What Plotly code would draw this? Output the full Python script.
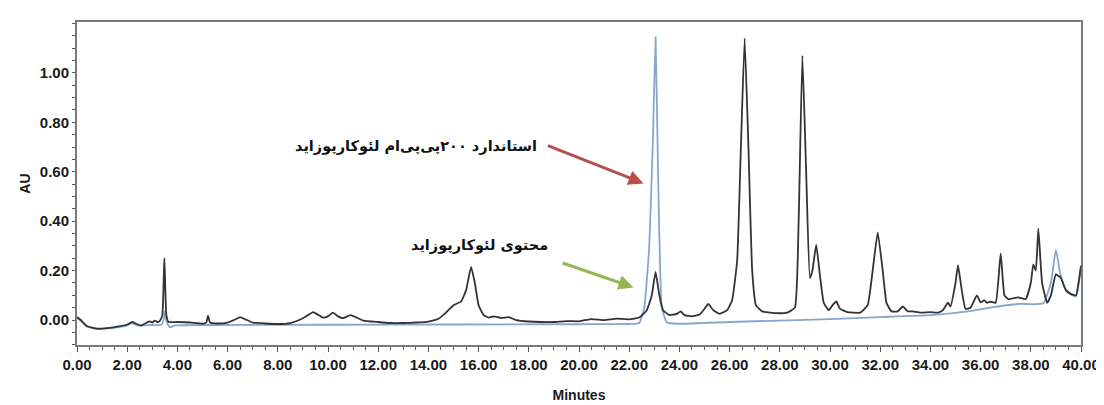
import plotly.graph_objects as go

# Sample chromatogram (black): time (min), absorbance (AU)
sample_t = [0.00, 0.15, 0.4, 0.8, 1.2, 1.6, 2.0, 2.2, 2.35, 2.55, 2.75, 2.9, 3.0, 3.1, 3.2, 3.3,
            3.4, 3.48, 3.56, 3.65, 4.0, 4.5, 5.0, 5.15, 5.22, 5.3, 5.6, 6.0, 6.3, 6.5, 6.7, 7.0,
            7.5, 8.0, 8.5, 8.9, 9.2, 9.4, 9.6, 9.8, 10.0, 10.2, 10.4, 10.6, 10.9, 11.1, 11.4, 12.0,
            12.5, 13.0, 13.5, 14.0, 14.4, 14.7, 15.0, 15.3, 15.5, 15.7, 15.85, 16.0, 16.2, 16.4,
            16.6, 16.9, 17.2, 17.5, 18.0, 18.5, 19.0, 19.5, 20.0, 20.5, 21.0, 21.5, 22.0, 22.4,
            22.7, 22.9, 23.05, 23.2, 23.35, 23.6, 23.9, 24.05, 24.2, 24.5, 24.8, 25.0, 25.15,
            25.35, 25.6, 25.9, 26.1, 26.3, 26.45, 26.6, 26.75, 26.9, 27.05, 27.3, 27.8, 28.3,
            28.6, 28.75, 28.9, 29.05, 29.2, 29.3, 29.45, 29.6, 29.75, 29.95, 30.1, 30.25, 30.4,
            30.7, 31.2, 31.5, 31.7, 31.9, 32.1, 32.25, 32.45, 32.7, 32.9, 33.1, 33.3, 33.6, 34.0,
            34.3, 34.5, 34.7, 34.8, 35.0, 35.1, 35.25, 35.4, 35.6, 35.85, 36.0, 36.15, 36.25,
            36.4, 36.6, 36.8, 36.95, 37.1, 37.5, 37.8, 38.0, 38.1, 38.2, 38.3, 38.45, 38.65,
            38.8, 39.0, 39.2, 39.4, 39.6, 39.8, 39.9, 40.0]
sample_au = [0.012, 0.0, -0.025, -0.035, -0.033, -0.027, -0.018, -0.008, -0.015, -0.022, -0.012,
             -0.005, -0.01, -0.002, -0.008, -0.003, 0.02, 0.25, 0.02, -0.008, -0.008, -0.01,
             -0.015, -0.01, 0.018, -0.01, -0.014, -0.01, 0.002, 0.012, 0.003, -0.01, -0.014,
             -0.016, -0.012, 0.002, 0.02, 0.032, 0.022, 0.01, 0.015, 0.03, 0.015, 0.008, 0.02,
             0.012, -0.002, -0.008, -0.012, -0.012, -0.01, -0.006, 0.005, 0.03, 0.06, 0.075,
             0.12, 0.215, 0.15, 0.06, 0.02, 0.01, 0.015, 0.008, 0.012, 0.0, -0.006, -0.008,
             -0.008, -0.004, -0.005, 0.004, 0.0, 0.006, 0.003, 0.01, 0.04, 0.1, 0.195, 0.1,
             0.04, 0.02, 0.025, 0.035, 0.02, 0.015, 0.022, 0.045, 0.065, 0.04, 0.025, 0.04,
             0.08, 0.24, 0.7, 1.14, 0.7, 0.2, 0.06, 0.035, 0.028, 0.03, 0.05, 0.4, 1.07, 0.6,
             0.17, 0.2, 0.305, 0.18, 0.07, 0.04, 0.06, 0.075, 0.045, 0.032, 0.03, 0.06, 0.2,
             0.355, 0.2, 0.07, 0.035, 0.035, 0.055, 0.035, 0.035, 0.03, 0.032, 0.03, 0.04,
             0.07, 0.055, 0.15, 0.222, 0.12, 0.045, 0.05, 0.1, 0.072, 0.08, 0.07, 0.074, 0.07,
             0.27, 0.1, 0.085, 0.092, 0.085, 0.15, 0.225, 0.2, 0.37, 0.15, 0.07, 0.1, 0.185,
             0.17, 0.12, 0.105, 0.1, 0.15, 0.22]

# Standard 200 ppm chromatogram (blue)
std_t = [0.0, 0.15, 0.4, 0.8, 1.2, 1.6, 2.0, 2.2, 2.4, 3.0, 3.35, 3.45, 3.5, 3.58, 3.7, 3.9,
         5.0, 10.0, 15.0, 20.0, 22.0, 22.4, 22.6, 22.8, 22.95, 23.05, 23.15, 23.3, 23.5, 24.0,
         26.0, 28.0, 30.0, 32.0, 34.0, 35.5, 36.5, 37.5, 38.5, 38.8, 39.0, 39.15, 39.35, 39.6,
         39.8, 39.9, 40.0]
std_au = [0.01, -0.003, -0.026, -0.036, -0.034, -0.03, -0.022, -0.012, -0.022, -0.02, -0.02,
          0.0, 0.035, -0.01, -0.03, -0.022, -0.02, -0.019, -0.018, -0.017, -0.016, -0.012,
          0.05, 0.3, 0.75, 1.145, 0.6, 0.05, -0.01, -0.015, -0.008, -0.002, 0.004, 0.012,
          0.02, 0.035, 0.052, 0.065, 0.068, 0.15, 0.285, 0.2, 0.13, 0.105, 0.095, 0.14, 0.21]

x_ticks = [0, 2, 4, 6, 8, 10, 12, 14, 16, 18, 20, 22, 24, 26, 28, 30, 32, 34, 36, 38, 40]
y_ticks = [0.0, 0.2, 0.4, 0.6, 0.8, 1.0]

label_std = "استاندارد ۲۰۰پی‌پی‌ام لئوکارپوزاید"
label_sample = "محتوی لئوکارپوزاید"

fig = go.Figure()
fig.add_trace(go.Scatter(x=std_t, y=std_au, mode="lines",
                         line=dict(color="#86a6cf", width=1.8, shape="spline", smoothing=0.4),
                         showlegend=False))
fig.add_trace(go.Scatter(x=sample_t, y=sample_au, mode="lines",
                         line=dict(color="#333333", width=1.8, shape="spline", smoothing=0.4),
                         showlegend=False))

tickfont = dict(family="Liberation Sans, Arial, sans-serif", size=15, color="#1a1a1a", weight="bold")
titlefont = dict(family="Liberation Sans, Arial, sans-serif", size=14, color="#1a1a1a", weight="bold")

fig.update_layout(
    width=1104, height=405,
    margin=dict(l=69, r=22, t=14, b=55),
    paper_bgcolor="white", plot_bgcolor="white",
    xaxis=dict(range=[0, 40], tickvals=x_ticks, ticktext=[f"{v:.2f}" for v in x_ticks],
               ticks="outside", ticklen=5, tickcolor="#555", tickwidth=1.2,
               minor=dict(ticks="outside", dtick=0.5, tick0=0, ticklen=3, tickcolor="#555"),
               showline=True, mirror=True, linecolor="#7a7a7a", linewidth=2,
               showgrid=False, zeroline=False, tickfont=tickfont,
               title=dict(text="Minutes", font=titlefont, standoff=18)),
    yaxis=dict(range=[-0.101, 1.206], tickvals=y_ticks, ticktext=[f"{v:.2f}" for v in y_ticks],
               ticks="outside", ticklen=3, tickcolor="#555", tickwidth=1.2,
               minor=dict(ticks="outside", dtick=0.05, tick0=0, ticklen=3, tickcolor="#555"),
               showline=True, mirror=True, linecolor="#7a7a7a", linewidth=2,
               showgrid=False, zeroline=False, tickfont=tickfont,
               title=dict(text="AU", font=titlefont, standoff=6)),
)

arrow_font = dict(family="DejaVu Sans", size=14.5, color="#111111", weight="bold")
fig.add_annotation(x=13.5, y=0.704, xref="x", yref="y", text=label_std, showarrow=False,
                   font=arrow_font)
fig.add_annotation(x=16.05, y=0.30, xref="x", yref="y", text=label_sample, showarrow=False,
                   font=arrow_font)
fig.add_annotation(x=22.57, y=0.553, ax=18.7, ay=0.708, xref="x", yref="y", axref="x", ayref="y",
                   text="", showarrow=True, arrowhead=2, arrowsize=1, arrowwidth=3,
                   arrowcolor="#b5504f")
fig.add_annotation(x=22.17, y=0.132, ax=19.29, ay=0.233, xref="x", yref="y", axref="x", ayref="y",
                   text="", showarrow=True, arrowhead=2, arrowsize=1, arrowwidth=3,
                   arrowcolor="#93b552")

fig.write_html("out.html")
